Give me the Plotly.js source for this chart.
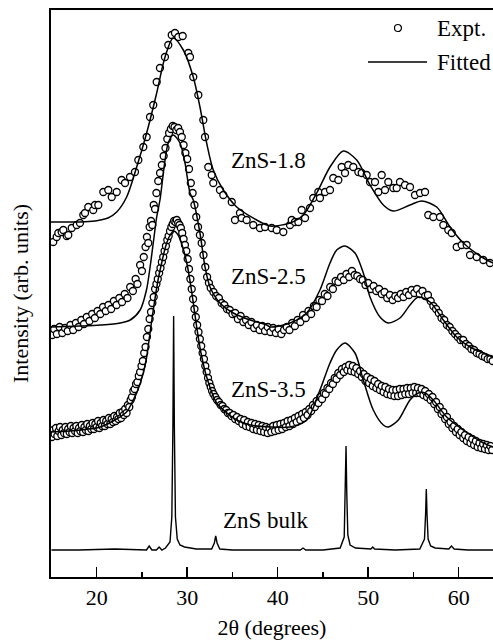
<!DOCTYPE html>
<html>
<head>
<meta charset="utf-8">
<script src="https://cdn.plot.ly/plotly-3.0.1.min.js"></script>
<style>
  html, body { margin: 0; padding: 0; background: #fff; }
  #plot { width: 493px; height: 642px; }
</style>
</head>
<body>
<div id="plot"></div>
<script>
// XRD patterns of ZnS nanocrystals (stacked, arbitrary offsets) and bulk ZnS.

// ZnS-1.8: measured points
const zns18X = [15.20,15.58,15.76,16.13,16.31,16.69,16.86,17.24,17.79,18.15,18.52,18.71,19.07,19.62,19.81,20.18,20.73,21.28,21.66,22.21,22.76,23.13,23.68,24.23,24.60,25.15,25.52,25.89,26.25,26.63,26.99,27.54,27.91,28.29,28.65,29.02,29.50,30.12,30.31,30.67,31.23,31.78,31.97,32.33,32.71,32.88,33.62,33.99,34.92,35.28,35.83,36.02,36.57,37.30,38.04,38.60,39.34,39.89,40.62,41.36,41.55,41.91,42.28,42.65,43.02,43.57,43.93,44.49,44.67,45.23,45.78,46.14,46.70,47.07,47.44,47.80,48.35,48.91,49.28,49.83,50.20,50.75,51.12,51.49,51.86,52.22,52.77,53.15,53.51,54.07,54.62,55.17,55.73,56.28,56.64,57.19,57.93,58.30,58.85,59.23,59.78,60.33,60.88,61.25,61.99,62.72,63.46];
const zns18Y = [335,340,344,345,347,341,342,349,352,354,362,364,370,367,372,372,385,387,380,385,397,394,400,405,417,430,440,460,472,495,509,520,532,542,544,540,541,524,520,500,482,457,440,410,402,394,387,382,375,357,364,359,357,352,349,350,349,347,345,352,357,355,355,367,359,369,379,385,379,385,387,399,397,410,404,412,410,405,404,402,395,395,385,402,387,395,389,389,395,392,390,382,384,385,362,360,360,352,347,344,330,332,332,322,320,317,314];
// ZnS-1.8: fitted curve
const fit18X = [14.95,18.15,19.81,20.36,21.25,22.21,23.31,24.42,25.52,26.63,27.55,28.46,29.57,30.67,31.41,32.15,32.88,33.99,35.47,37.68,39.15,41.36,42.83,44.31,45.78,47.25,48.73,50.20,51.67,52.77,54.62,55.91,57.57,59.04,60.51,62.72,63.79];
const fit18Y = [355,355,356,357,359,365,380,410,444,484,520,539,527,500,470,434,407,387,370,357,351,354,362,384,410,426,417,392,372,366,372,376,370,350,334,319,314];

// ZnS-2.5: measured points
const zns25X = [15.1,15.3,15.6,15.9,16.2,16.5,16.8,17.1,17.4,17.7,18.0,18.3,18.6,18.9,19.2,19.5,19.8,20.1,20.4,20.7,21.0,21.3,21.6,21.9,22.2,22.5,22.8,23.1,23.4,23.7,24.0,24.3,24.5,24.8,25.0,25.2,25.4,25.55,25.7,25.85,26.0,26.15,26.3,26.45,26.6,26.8,27.0,27.2,27.4,27.6,27.8,28.0,28.2,28.4,28.6,28.8,29.0,29.2,29.4,29.6,29.8,30.0,30.2,30.4,30.6,30.8,31.0,31.2,31.4,31.6,31.8,32.0,32.2,32.4,32.6,32.9,33.2,33.5,33.8,34.1,34.4,34.7,35.0,35.3,35.6,35.9,36.2,36.5,36.8,37.1,37.4,37.7,38.0,38.3,38.6,38.9,39.2,39.5,39.8,40.1,40.4,40.7,41.0,41.3,41.6,41.9,42.2,42.5,42.8,43.1,43.4,43.7,44.0,44.3,44.6,44.9,45.2,45.5,45.8,46.1,46.4,46.7,47.0,47.3,47.6,47.9,48.2,48.5,48.8,49.1,49.4,49.7,50.0,50.3,50.6,50.9,51.2,51.5,51.8,52.1,52.4,52.7,53.0,53.3,53.6,53.9,54.2,54.5,54.8,55.1,55.4,55.7,56.0,56.3,56.6,56.9,57.2,57.5,57.8,58.1,58.4,58.7,59.0,59.3,59.6,59.9,60.2,60.5,60.8,61.1,61.4,61.7,62.0,62.3,62.6,62.9,63.2,63.5,63.75];
const zns25Y = [242,248,243,250,244,249,246,252,247,254,250,257,253,260,256,263,259,266,263,270,266,272,268,276,272,279,275,283,279,290,286,298,293,312,306,320,330,340,334,350,356,352,372,368,384,396,404,412,421,429,438,444,448,451,450,447,449,445,440,432,424,418,408,394,384,372,360,350,342,334,322,310,300,294,289,285,281,279,274,272,268,267,263,264,258,261,255,257,252,255,249,252,247,251,246,250,245,249,244,248,243,247,250,247,254,251,257,255,262,259,266,263,271,270,277,276,283,281,290,288,296,295,300,297,303,300,306,302,301,298,297,292,294,288,291,286,288,283,285,279,282,277,281,279,283,280,285,282,287,284,288,283,286,281,282,276,271,268,264,259,257,252,250,246,243,240,237,237,233,231,228,227,224,223,221,220,218,218,216];
// ZnS-2.5: fitted curve
const fit25X = [14.95,18.2,20.4,22.6,23.7,24.8,25.5,25.9,26.25,26.63,26.99,27.9,28.46,29.2,29.76,30.31,30.67,31.41,31.97,32.52,33.62,35.09,36.94,38.78,39.15,41.36,43.2,44.67,45.78,46.52,47.44,48.54,49.46,50.20,51.30,52.22,53.51,54.62,55.54,56.83,58.30,59.78,61.25,62.72,63.79];
const fit25Y = [250,251,252,254,257,267,287,310,334,360,377,434,442,434,414,384,377,344,310,290,274,264,257,252,250,254,264,287,314,327,331,324,304,280,260,254,259,272,280,275,257,240,230,224,220];

// ZnS-3.5: measured points
const zns35X = [15.05,15.2,15.35,15.5,15.65,15.8,15.95,16.1,16.25,16.4,16.55,16.7,16.85,17.0,17.15,17.3,17.45,17.6,17.75,17.9,18.05,18.2,18.35,18.5,18.65,18.8,18.95,19.1,19.25,19.4,19.55,19.7,19.85,20.0,20.15,20.3,20.45,20.6,20.75,20.9,21.05,21.2,21.35,21.5,21.65,21.8,21.95,22.1,22.25,22.4,22.55,22.7,22.85,23.0,23.15,23.3,23.45,23.6,23.75,23.9,24.05,24.2,24.35,24.5,24.65,24.8,24.95,25.1,25.25,25.4,25.55,25.7,25.85,26.0,26.15,26.3,26.45,26.6,26.75,26.9,27.05,27.2,27.35,27.5,27.65,27.8,27.95,28.1,28.25,28.4,28.55,28.7,28.85,29.0,29.15,29.3,29.45,29.6,29.75,29.9,30.05,30.2,30.35,30.5,30.65,30.8,30.95,31.1,31.25,31.4,31.55,31.7,31.85,32.0,32.15,32.3,32.45,32.6,32.75,32.9,33.1,33.3,33.5,33.7,33.9,34.1,34.3,34.5,34.7,34.9,35.1,35.3,35.5,35.7,35.9,36.1,36.3,36.5,36.7,36.9,37.1,37.3,37.5,37.7,37.9,38.1,38.3,38.5,38.7,38.9,39.1,39.3,39.5,39.7,39.9,40.1,40.3,40.5,40.7,40.9,41.1,41.3,41.5,41.7,41.9,42.1,42.3,42.5,42.7,42.9,43.1,43.3,43.5,43.7,43.9,44.1,44.3,44.5,44.7,44.9,45.1,45.3,45.5,45.7,45.9,46.1,46.3,46.5,46.7,46.9,47.1,47.3,47.5,47.7,47.9,48.1,48.3,48.5,48.7,48.9,49.1,49.3,49.5,49.7,49.9,50.1,50.3,50.5,50.7,50.9,51.1,51.3,51.5,51.7,51.9,52.1,52.3,52.5,52.7,52.9,53.1,53.3,53.5,53.7,53.9,54.1,54.3,54.5,54.7,54.9,55.1,55.3,55.5,55.7,55.9,56.1,56.3,56.5,56.7,56.9,57.1,57.3,57.5,57.7,57.9,58.1,58.3,58.5,58.7,58.9,59.1,59.3,59.5,59.7,59.9,60.1,60.3,60.5,60.7,60.9,61.1,61.3,61.5,61.7,61.9,62.1,62.3,62.5,62.7,62.9,63.1,63.3,63.5,63.7];
const zns35Y = [140,147,143,149,141,146,150,142,147,144,150,143,148,145,151,144,149,146,151,144,149,146,152,145,150,147,153,146,151,148,154,148,153,150,156,149,154,151,157,151,156,153,159,153,158,155,161,156,160,158,164,159,165,162,168,164,172,170,177,180,186,188,193,195,201,205,211,216,224,230,240,248,258,265,274,280,288,293,298,304,309,315,320,326,331,337,341,346,350,353,356,355,357,354,352,349,344,338,332,326,318,308,298,288,278,268,260,252,245,238,231,224,218,211,205,199,194,190,186,183,180,177,175,172,171,168,167,164,164,161,162,158,160,156,158,153,157,151,155,150,154,148,153,147,152,146,151,145,150,144,149,145,151,146,152,147,153,148,154,150,156,151,157,153,159,155,161,157,163,159,165,162,168,166,172,170,176,174,180,178,184,183,189,188,194,193,199,198,204,202,208,205,210,207,212,206,211,205,209,203,206,200,203,196,200,194,198,191,196,189,193,187,191,185,190,183,188,182,187,181,187,181,188,182,188,183,189,183,189,184,190,184,189,184,188,182,186,180,183,177,180,173,175,168,170,163,165,158,160,153,155,149,151,145,148,142,145,139,142,136,140,134,138,132,136,130,134,129,133,128,132,127,131,127];
// ZnS-3.5: fitted curve
const fit35X = [14.95,18.2,20.4,22.2,23.3,24.04,24.42,25.15,25.52,25.89,26.3,26.8,27.2,27.6,28.0,28.5,29.0,29.5,30.0,30.5,31.05,31.5,32.15,33.26,34.4,35.47,37.0,39.15,41.36,43.2,44.67,45.78,46.52,47.44,48.54,49.46,50.56,51.67,52.22,53.33,54.62,55.54,56.3,57.19,58.67,60.51,62.72,63.79];
const fit35Y = [145,147,150,158,165,177,184,204,220,244,270,298,315,330,340,346,342,330,312,285,250,225,200,174,164,157,152,150,150,157,187,214,227,234,224,197,167,152,150,157,177,184,184,177,160,147,134,130];

// Bulk ZnS pattern
const bulkX = [15,18,22,25.5,25.8,26.1,26.6,26.9,27.2,27.6,28.1,28.3,28.42,28.5,28.58,28.7,28.9,29.2,29.7,31,32.7,33.0,33.15,33.3,33.6,35,38,42.5,42.8,43.1,45,46.9,47.35,47.47,47.55,47.63,47.75,48.0,48.6,50.3,50.5,50.7,53,55.7,56.22,56.35,56.42,56.5,56.62,56.9,57.4,58.9,59.2,59.5,61,63.8];
const bulkY = [27,27,28,27,31,27,27,30,27,29,35,60,150,261,150,60,38,32,30,28,28,34,41,34,28,27,27,27,29,27,27,29,40,85,131,85,42,32,29,28,30,28,27,28,38,65,88,62,38,31,29,28,31,28,27,27];

// Sample labels
const labelText = ['ZnS-1.8', 'ZnS-2.5', 'ZnS-3.5', 'ZnS bulk'];
const labelX = [38.93, 38.93, 38.93, 38.65];
const labelY = [417, 301, 188, 57];

const serif = '"Liberation Serif", "Times New Roman", Times, serif';
const pointStyle = {symbol: 'circle', size: 7, color: '#ffffff', line: {color: '#000000', width: 1.3}};
const fitStyle = {color: '#000000', width: 1.5, shape: 'spline', smoothing: 0.8};

const traces = [
  {x: zns18X, y: zns18Y, mode: 'markers', marker: pointStyle, name: 'Expt.'},
  {x: zns25X, y: zns25Y, mode: 'markers', marker: pointStyle, name: 'Expt.'},
  {x: zns35X, y: zns35Y, mode: 'markers', marker: pointStyle, name: 'Expt.'},
  {x: fit18X, y: fit18Y, mode: 'lines', line: fitStyle, name: 'Fitted'},
  {x: fit25X, y: fit25Y, mode: 'lines', line: fitStyle, name: 'Fitted'},
  {x: fit35X, y: fit35Y, mode: 'lines', line: fitStyle, name: 'Fitted'},
  {x: bulkX, y: bulkY, mode: 'lines', line: {color: '#000000', width: 1.4}, name: 'ZnS bulk'}
];

const annotations = labelText.map((t, i) => ({
  x: labelX[i], y: labelY[i], xref: 'x', yref: 'y', text: t, showarrow: false,
  font: {family: serif, size: 23, color: '#000'}, xanchor: 'center', yanchor: 'middle'
}));
// key entries
annotations.push({x: 57.38, y: 549, xref: 'x', yref: 'y', text: 'Expt.', showarrow: false,
  font: {family: serif, size: 23, color: '#000'}, xanchor: 'left', yanchor: 'middle'});
annotations.push({x: 57.38, y: 515, xref: 'x', yref: 'y', text: 'Fitted', showarrow: false,
  font: {family: serif, size: 23, color: '#000'}, xanchor: 'left', yanchor: 'middle'});

const shapes = [
  {type: 'circle', xref: 'x', yref: 'y', xsizemode: 'pixel', ysizemode: 'pixel',
   xanchor: 53.29, yanchor: 549, x0: -3.5, x1: 3.5, y0: -3.5, y1: 3.5,
   line: {color: '#000', width: 1.2}, fillcolor: '#fff'},
  {type: 'line', xref: 'x', yref: 'y', x0: 49.98, x1: 56.5, y0: 515, y1: 515,
   line: {color: '#000', width: 1.5}}
];

const layout = {
  width: 493, height: 642,
  margin: {l: 51, r: 0, t: 10, b: 65},
  paper_bgcolor: '#fff', plot_bgcolor: '#fff',
  showlegend: false,
  font: {family: serif, size: 22, color: '#000'},
  xaxis: {
    range: [14.95, 63.79], showgrid: false, zeroline: false,
    showline: true, mirror: true, linecolor: '#000', linewidth: 2,
    ticks: 'inside', ticklen: 10, tickwidth: 1.5, tickcolor: '#000',
    tick0: 20, dtick: 10,
    minor: {ticks: 'inside', ticklen: 5, tickwidth: 1.5, dtick: 5, tick0: 15, tickcolor: '#000'},
    tickfont: {family: serif, size: 22, color: '#000'},
    title: {text: '2θ (degrees)', font: {family: serif, size: 22, color: '#000'}, standoff: 10}
  },
  yaxis: {
    range: [0, 567], showgrid: false, zeroline: false,
    showline: true, linecolor: '#000', linewidth: 2,
    ticks: '', showticklabels: false,
    title: {text: 'Intensity (arb. units)', font: {family: serif, size: 22, color: '#000'}, standoff: 14}
  },
  annotations: annotations,
  shapes: shapes
};

Plotly.newPlot('plot', traces, layout, {displayModeBar: false, staticPlot: true});
</script>
</body>
</html>
